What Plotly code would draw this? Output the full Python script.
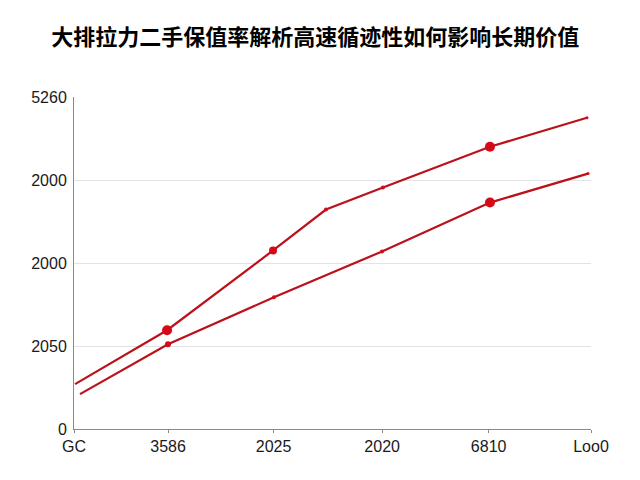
import plotly.graph_objects as go

# chart data
title_text = "大排拉力二手保值率解析高速循迹性如何影响长期价值"

x_tick_vals = [0, 0.91, 1.93, 2.98, 4.01, 5.0]
x_tick_text = ["GC", "3586", "2025", "2020", "6810", "Loo0"]

y_tick_vals = [0, 1000, 2000, 3000, 4000]
y_tick_text = ["0", "2050", "2000", "2000", "5260"]

upper_x = [0.01, 0.90, 1.925, 2.437, 2.988, 4.023, 4.961]
upper_y = [541, 1190, 2151, 2644, 2909, 3401, 3750]

lower_x = [0.058, 0.909, 1.934, 2.979, 4.023, 4.971]
lower_y = [420, 1022, 1587, 2139, 2728, 3077]

upper_marker_size = [0, 10, 8, 4, 4, 10, 3]
lower_marker_size = [0, 6, 4, 4, 10, 3]

LINE_RED = "#bb111a"
DOT_RED = "#d40a16"

fig = go.Figure()

fig.add_trace(go.Scatter(
    x=upper_x, y=upper_y, mode="lines+markers",
    line=dict(color=LINE_RED, width=2.2),
    marker=dict(color=DOT_RED, size=upper_marker_size, opacity=1, line=dict(width=0)),
    showlegend=False,
))
fig.add_trace(go.Scatter(
    x=lower_x, y=lower_y, mode="lines+markers",
    line=dict(color=LINE_RED, width=2.2),
    marker=dict(color=DOT_RED, size=lower_marker_size, opacity=1, line=dict(width=0)),
    showlegend=False,
))

# page body adds ~8px offset, so margins are shifted to land on the reference
fig.update_layout(
    width=640, height=480,
    paper_bgcolor="white", plot_bgcolor="white",
    margin=dict(l=66, r=57, t=89, b=59),
    title=dict(
        text=title_text, x=0.48, xanchor="center",
        y=1 - 29 / 480, yanchor="middle",
        font=dict(family="Noto Sans CJK SC", size=22, color="#000000", weight="bold"),
    ),
    font=dict(family="Liberation Sans, Arial", size=16, color="#1a1a1a"),
)

fig.update_xaxes(
    range=[0, 5.0], tickvals=x_tick_vals, ticktext=x_tick_text,
    showgrid=False, zeroline=False,
    showline=True, linecolor="#8a8a8a", linewidth=1,
    ticks="outside", ticklen=3, tickcolor="#8a8a8a",
    tickfont=dict(size=16, color="#1a1a1a"),
)
fig.update_yaxes(
    range=[0, 4000], tickvals=y_tick_vals, ticktext=y_tick_text,
    showgrid=True, gridcolor="#e3e3e3", gridwidth=1, zeroline=False,
    showline=True, linecolor="#8a8a8a", linewidth=1,
    ticks="", ticklabelstandoff=3,
    tickfont=dict(size=16, color="#1a1a1a"),
)

fig.write_html("out.html")
